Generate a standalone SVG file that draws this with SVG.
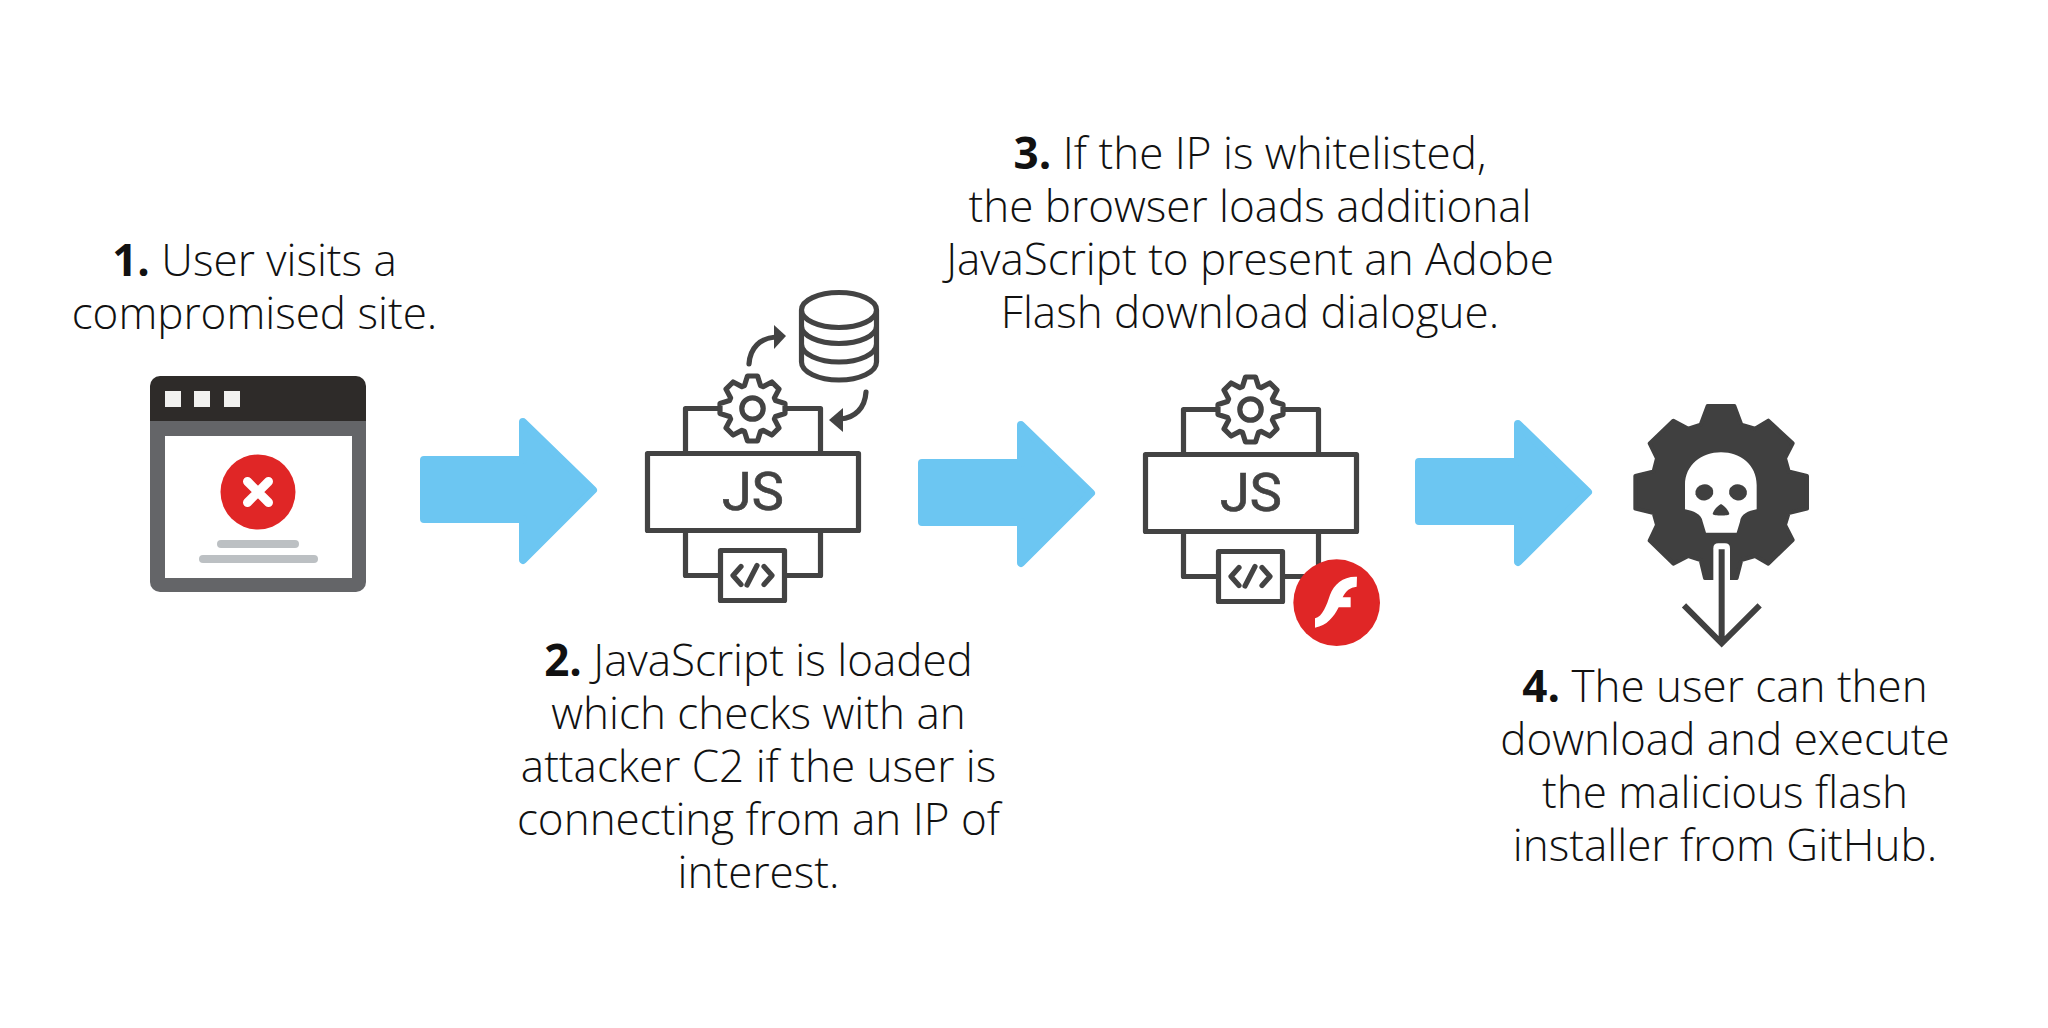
<svg xmlns="http://www.w3.org/2000/svg" xmlns:xlink="http://www.w3.org/1999/xlink" width="2048" height="1028" viewBox="0 0 2048 1028">
<style>
.t{font-family:"Open Sans","Noto Sans",sans-serif;font-weight:300;font-size:44px;fill:#111;text-anchor:middle}
.t .b{font-weight:700}
.ln{fill:none;stroke:#434343;stroke-width:5.2;stroke-linejoin:round;stroke-linecap:round}
.blue{fill:#6cc6f2;stroke:#6cc6f2;stroke-width:8;stroke-linejoin:round}
.js{font-family:Roboto,"Liberation Sans",sans-serif;font-weight:400;font-size:54px;fill:#434343;stroke:#434343;stroke-width:.7;text-anchor:middle}
</style>
<defs>
<polygon id="arrow" class="blue" points="424,460 523,460 523,422 593,490 523,560 523,519 424,519"/>
<path id="gearShape" d="M-8-23-5-32.5H5L8-23 10.6-21.9 19.4-26.5 26.5-19.4 21.9-10.6 23-8 32.5-5V5L23 8 21.9 10.6 26.5 19.4 19.4 26.5 10.6 21.9 8 23 5 32.5H-5L-8 23-10.6 21.9-19.4 26.5-26.5 19.4-21.9 10.6-23 8-32.5 5V-5L-23-8-21.9-10.6-26.5-19.4-19.4-26.5-10.6-21.9Z"/>
<g id="jsIcon">
<path class="ln" d="M685.5 453.5V408.500H820.500V453.500"/>
<path class="ln" d="M685.5 530.500V575.500H820.500V530.500"/>
<rect class="ln" x="647.500" y="453.500" width="211" height="77"/>
<text class="js" x="753" y="510">JS</text>
<use xlink:href="#gearShape" href="#gearShape" x="752.500" y="408.500" class="ln" style="fill:#fff"/>
<circle class="ln" cx="752.500" cy="408.500" r="10.700"/>
<rect class="ln" x="720.500" y="550.500" width="64" height="50" style="fill:#fff"/>
<path class="ln" d="M741 566.500 733 575.500 741 584.500M747 585 757 565.500M764 566.500 772 575.500 764 584.500"/>
</g>
</defs>
<rect width="2048" height="1028" fill="#fff"/>
<g id="connectors">
<use xlink:href="#arrow" href="#arrow"/>
<use xlink:href="#arrow" href="#arrow" x="498" y="3"/>
<use xlink:href="#arrow" href="#arrow" x="995" y="2"/>
</g>
<g id="node-1">
<path d="M150 421V386a10 10 0 0 1 10-10H356a10 10 0 0 1 10 10V421Z" fill="#2e2b29"/>
<path d="M150 421H366V582a10 10 0 0 1-10 10H160a10 10 0 0 1-10-10Z" fill="#646568"/>
<rect x="165" y="436" width="187" height="142" fill="#fff"/>
<rect x="165" y="391" width="16" height="16" fill="#f1f1ef"/>
<rect x="194" y="391" width="16" height="16" fill="#f1f1ef"/>
<rect x="224" y="391" width="16" height="16" fill="#f1f1ef"/>
<circle cx="258" cy="492" r="37.500" fill="#e02626"/>
<path d="M247.500 481.500 268.500 502.500M268.500 481.500 247.500 502.500" stroke="#fff" stroke-width="9" stroke-linecap="round"/>
<rect x="217" y="540" width="82" height="8" rx="4" fill="#bcc0c3"/>
<rect x="199" y="555" width="119" height="8" rx="4" fill="#bcc0c3"/>
<text class="t" x="254.500" y="276"><tspan class="b">1.</tspan> User visits a</text>
<text class="t" x="254.500" y="329">compromised site.</text>
</g>
<g id="node-2">
<use xlink:href="#jsIcon" href="#jsIcon"/>
<path class="ln" d="M801.500 310A37.500 17.500 0 0 1 876.500 310V362A37.500 18 0 0 1 801.500 362ZM801.500 310A37.500 17.500 0 0 0 876.500 310M801.500 326A37.500 17.500 0 0 0 876.500 326M801.500 344A37.500 18 0 0 0 876.500 344" style="fill:#fff"/>
<path class="ln" d="M749 364C750 348 760 338 776 337"/>
<path d="M786 336 774 325V349Z" fill="#434343"/>
<path class="ln" d="M866 392C865 408 855 418 840 419"/>
<path d="M829 420 843 408V432Z" fill="#434343"/>
<text class="t" x="758.500" y="676"><tspan class="b">2.</tspan> JavaScript is loaded</text>
<text class="t" x="758.500" y="729">which checks with an</text>
<text class="t" x="758.500" y="782">attacker C2 if the user is</text>
<text class="t" x="758.500" y="835">connecting from an IP of</text>
<text class="t" x="758.500" y="888">interest.</text>
</g>
<g id="node-3">
<use xlink:href="#jsIcon" href="#jsIcon" x="498" y="1"/>
<g transform="translate(1130 360) scale(.33333)">
<circle cx="620" cy="728" r="130" fill="#e02626"/>
<path d="M681 650C640 648 612 672 600 705C590 735 578 770 555 775V803C590 798 612 770 626 742H662V712H638C648 692 660 682 680 680Z" fill="#fff"/>
</g>
<text class="t" x="1250" y="168.500"><tspan class="b">3.</tspan> If the IP is whitelisted,</text>
<text class="t" x="1250" y="221.500">the browser loads additional</text>
<text class="t" x="1250" y="274.500">JavaScript to present an Adobe</text>
<text class="t" x="1250" y="327.500">Flash download dialogue.</text>
</g>
<g id="node-4">
<g transform="translate(1600 380) scale(.33333)">
<path fill="#404040" stroke="#404040" stroke-width="12" stroke-linejoin="round" d="M323 78H403L424 134 465 146 505 122 578 190 555 235 566 274 621 288V386L566 399 555 435 578 480 505 551 465 528 424 540 410 594H315L302 540 265 528 220 551 149 482 171 435 161 399 106 386V288L161 274 171 235 149 190 220 122 265 146 302 134Z"/>
<path fill="#fff" d="M255 315C255 255 305 217 363 217C421 217 470 255 470 315V388C445 393 422 402 420 425L410 458H318L308 425C305 402 280 393 255 388Z"/>
<ellipse cx="313" cy="337" rx="27" ry="24" fill="#404040" transform="rotate(-12 313 337)"/>
<ellipse cx="414" cy="337" rx="27" ry="24" fill="#404040" transform="rotate(12 414 337)"/>
<path d="M363 372C350 380 340 392 338 402C340 408 388 408 388 402C386 392 376 380 363 372Z" fill="#404040"/>
<path d="M340 600V505Q340 490 355 490H375Q390 490 390 505V600Z" fill="#fff"/>
<path d="M365 508V790M252 676 365 790 479 676" fill="none" stroke="#404040" stroke-width="18"/>
</g>
<text class="t" x="1725" y="701.500"><tspan class="b">4.</tspan> The user can then</text>
<text class="t" x="1725" y="754.500">download and execute</text>
<text class="t" x="1725" y="807.500">the malicious flash</text>
<text class="t" x="1725" y="860.500">installer from GitHub.</text>
</g>
</svg>
